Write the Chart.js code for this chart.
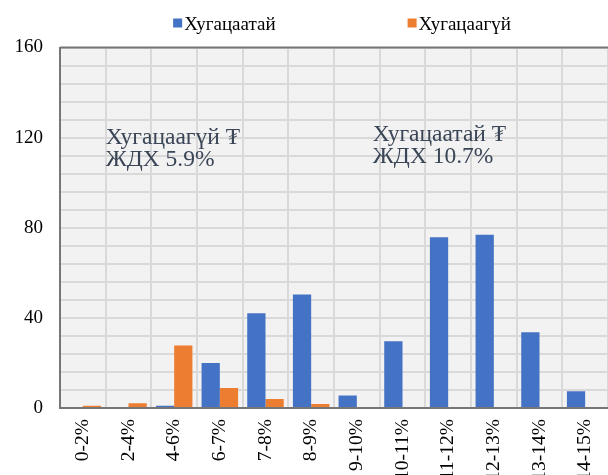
<!DOCTYPE html>
<html>
<head>
<meta charset="utf-8">
<script src="https://cdn.jsdelivr.net/npm/chart.js@4/dist/chart.umd.min.js"></script>
<style>
  html, body { margin: 0; padding: 0; background: #ffffff; }
  #wrap { width: 608px; height: 475px; position: relative; }
</style>
</head>
<body>
<div id="wrap"><canvas id="c" width="608" height="475"></canvas></div>
<script>
const categories = ['0-2%', '2-4%', '4-6%', '6-7%', '7-8%', '8-9%', '9-10%', '10-11%', '11-12%', '12-13%', '13-14%', '14-15%'];
const seriesNames = ['Хугацаатай', 'Хугацаагүй'];
const withTerm = [0, 0.4, 1, 20, 42, 50.4, 5.6, 29.6, 75.8, 76.9, 33.6, 7.4];
const withoutTerm = [1, 2.1, 27.7, 8.9, 4, 1.8, 0, 0, 0, 0, 0, 0];
const yTickLabels = [0, 40, 80, 120, 160];
const noteLeft = ['Хугацаагүй ₮', 'ЖДХ 5.9%'];
const noteRight = ['Хугацаатай ₮', 'ЖДХ 10.7%'];

const colors = ['#4472c4', '#ed7d31'];
const serif = '"Liberation Serif", "Times New Roman", "DejaVu Serif", serif';

const bgPlugin = {
  id: 'plotBg',
  beforeDraw(chart) {
    const a = chart.chartArea, ctx = chart.ctx;
    ctx.save();
    ctx.fillStyle = '#f2f2f2';
    ctx.fillRect(a.left, a.top, a.right - a.left, a.bottom - a.top);
    ctx.restore();
  },
  afterDatasetsDraw(chart) {
    const a = chart.chartArea, ctx = chart.ctx;
    ctx.save();
    ctx.strokeStyle = '#767676';
    ctx.lineWidth = 2;
    ctx.beginPath();
    ctx.moveTo(a.left, a.top);
    ctx.lineTo(a.right, a.top);
    ctx.stroke();
    ctx.restore();
  }
};

const notesPlugin = {
  id: 'notes',
  afterDraw(chart) {
    const ctx = chart.ctx, xs = chart.scales.x, ys = chart.scales.y;
    ctx.save();
    ctx.fillStyle = '#3a4556';
    ctx.font = '23.5px ' + serif;
    ctx.textAlign = 'left';
    ctx.textBaseline = 'alphabetic';
    const lh = 22;
    const draw = (lines, xi, yv) => {
      const x = xs.getPixelForValue(xi);
      const y = ys.getPixelForValue(yv);
      lines.forEach((t, i) => ctx.fillText(t, x, y + i * lh));
    };
    draw(noteLeft, 0.5, 117.3);
    draw(noteRight, 6.35, 118.6);
    ctx.restore();
  }
};

const legendPlugin = {
  id: 'customLegend',
  afterDraw(chart) {
    const ctx = chart.ctx;
    ctx.save();
    ctx.font = '19px ' + serif;
    ctx.textBaseline = 'alphabetic';
    const box = 9, gapText = 2, gapItems = 132;
    const widths = chart.data.datasets.map(d => box + gapText + ctx.measureText(d.label).width);
    const total = widths.reduce((s, w) => s + w, 0) + gapItems * (widths.length - 1);
    let x = 342 - total / 2;
    chart.data.datasets.forEach((d, i) => {
      ctx.fillStyle = d.backgroundColor;
      ctx.fillRect(x, 18.5, box, box);
      ctx.fillStyle = '#000000';
      ctx.fillText(d.label, x + box + gapText, 30);
      x += widths[i] + gapItems;
    });
    ctx.restore();
  }
};

new Chart(document.getElementById('c'), {
  type: 'bar',
  data: {
    labels: categories,
    datasets: [
      { label: seriesNames[0], data: withTerm, backgroundColor: colors[0], borderWidth: 0 },
      { label: seriesNames[1], data: withoutTerm, backgroundColor: colors[1], borderWidth: 0 }
    ]
  },
  options: {
    responsive: false,
    animation: false,
    devicePixelRatio: 1,
    layout: { padding: { top: 47.5, left: 0, right: 0, bottom: 0 } },
    datasets: { bar: { categoryPercentage: 0.8, barPercentage: 1.0 } },
    plugins: { legend: { display: false }, tooltip: { enabled: false } },
    scales: {
      x: {
        offset: true,
        grid: { display: true, color: '#d9d9d9', lineWidth: 2, drawTicks: false, offset: true },
        border: { display: true, color: '#767676', width: 2 },
        ticks: {
          autoSkip: false, minRotation: 90, maxRotation: 90, padding: 11,
          color: '#000000', font: { family: serif, size: 19.5 }
        },
        afterFit(scale) {
          scale.height = 67;
          scale.paddingLeft = 0;
          scale.paddingRight = 0;
        }
      },
      y: {
        min: 0, max: 160,
        grid: { color: '#d9d9d9', lineWidth: 2, drawTicks: false },
        border: { display: true, color: '#767676', width: 2 },
        ticks: {
          autoSkip: false, stepSize: 8, padding: 17, color: '#000000',
          font: { family: serif, size: 19 },
          callback: (v) => yTickLabels.includes(v) ? String(v) : ''
        },
        afterFit(scale) {
          scale.width = 60;
          scale.paddingTop = 0;
          scale.paddingBottom = 0;
        }
      }
    }
  },
  plugins: [bgPlugin, notesPlugin, legendPlugin]
});
</script>
</body>
</html>
